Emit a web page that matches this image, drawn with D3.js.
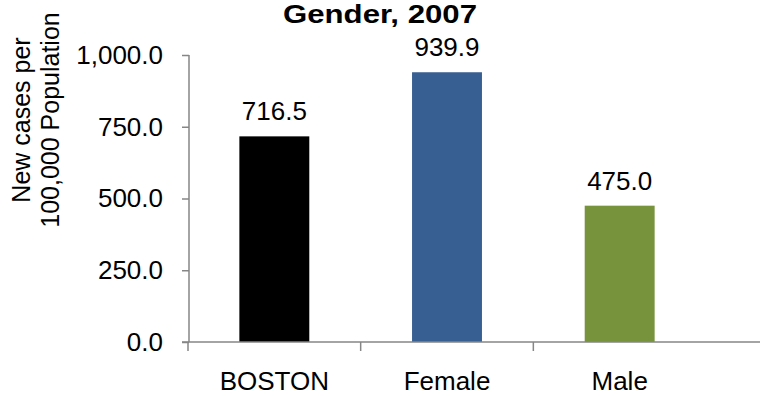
<!DOCTYPE html>
<html>
<head>
<meta charset="utf-8">
<script src="https://cdn.jsdelivr.net/npm/d3@7"></script>
<style>
html,body{margin:0;padding:0;background:#fff;}
text{font-family:"Liberation Sans",Arial,sans-serif;}
</style>
</head>
<body>
<svg id="chart" width="760" height="396"></svg>
<script>
const categories = ["BOSTON", "Female", "Male"];
const values = [716.5, 939.9, 475.0];
const colors = ["#000000", "#375F91", "#77933C"];
const yTicks = [0, 250, 500, 750, 1000];
const titleText = "Gender, 2007";
const yTitleLines = ["New cases per", "100,000 Population"];

const svg = d3.select("#chart");
const fmt = d3.format(",.1f");
const axisColor = "#868686";
const fs = 26;

const x = d3.scaleBand().domain(categories).range([188, 706]).padding(0);
const y = d3.scaleLinear().domain([0, 1000]).range([342, 55]);
const barW = x.bandwidth() * 0.405;

// title
svg.append("text").attr("x", 380).attr("y", 23).attr("text-anchor", "middle")
  .attr("font-size", 25).attr("font-weight", "bold").attr("fill", "#000")
  .attr("textLength", 194).attr("lengthAdjust", "spacingAndGlyphs").text(titleText);

// y axis title
const yt = svg.append("text").attr("transform", "translate(0,120) rotate(-90)")
  .attr("text-anchor", "middle").attr("font-size", 25).attr("fill", "#000");
yTitleLines.forEach((t, i) => {
  yt.append("tspan").attr("x", 0).attr("y", 30 + i * 29).text(t);
});

// bars
svg.selectAll("rect.bar").data(values).enter().append("rect")
  .attr("class", "bar")
  .attr("x", (d, i) => x(categories[i]) + x.bandwidth() / 2 - barW / 2)
  .attr("width", barW)
  .attr("y", d => y(d))
  .attr("height", d => y(0) - y(d))
  .attr("fill", (d, i) => colors[i]);

// data labels
svg.selectAll("text.lbl").data(values).enter().append("text")
  .attr("class", "lbl")
  .attr("x", (d, i) => x(categories[i]) + x.bandwidth() / 2)
  .attr("y", d => y(d) - 16)
  .attr("text-anchor", "middle").attr("font-size", fs).attr("fill", "#000")
  .text(d => fmt(d));

// y axis
const yAxis = d3.axisLeft(y).tickValues(yTicks).tickFormat(fmt).tickSize(7).tickPadding(19);
const gy = svg.append("g").attr("transform", "translate(189,0)").call(yAxis);
gy.select(".domain").attr("stroke", axisColor).attr("stroke-width", 1.5).attr("d", "M0,55V342");
gy.selectAll(".tick line").attr("stroke", axisColor).attr("stroke-width", 1.5);
gy.selectAll(".tick text").attr("font-size", fs).attr("fill", "#000")
  .attr("font-family", "'Liberation Sans',Arial,sans-serif");

// x axis
const gx = svg.append("g").attr("transform", "translate(0,342)");
gx.append("line").attr("x1", 182).attr("x2", 760).attr("y1", 0).attr("y2", 0)
  .attr("stroke", axisColor).attr("stroke-width", 1.5);
const bounds = categories.map(c => x(c));
gx.selectAll("line.sep").data(bounds).enter().append("line").attr("class", "sep")
  .attr("x1", d => d).attr("x2", d => d).attr("y1", 0).attr("y2", 9)
  .attr("stroke", axisColor).attr("stroke-width", 1.5);
gx.selectAll("text.cat").data(categories).enter().append("text").attr("class", "cat")
  .attr("x", d => x(d) + x.bandwidth() / 2).attr("y", 48)
  .attr("text-anchor", "middle").attr("font-size", fs).attr("fill", "#000").text(d => d);
</script>
</body>
</html>
